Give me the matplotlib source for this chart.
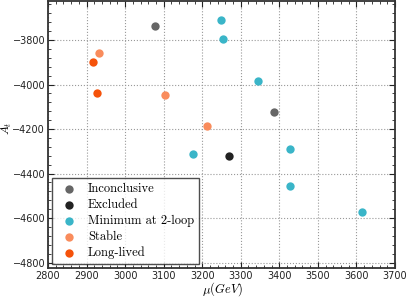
import numpy as np
from matplotlib import pyplot as plt

plt.rcParams['mathtext.fontset'] = 'cm'

# points, per category
inconclusive_mu = [3078, 3386]
inconclusive_at = [-3736, -4125]
excluded_mu = [3269]
excluded_at = [-4321]
minimum_mu = [3250, 3253, 3345, 3175, 3427, 3427, 3615]
minimum_at = [-3710, -3794, -3985, -4314, -4290, -4457, -4572]
stable_mu = [2931, 3104, 3213]
stable_at = [-3860, -4048, -4187]
longlived_mu = [2917, 2927]
longlived_at = [-3900, -4038]

xticks = [2800, 2900, 3000, 3100, 3200, 3300, 3400, 3500, 3600, 3700]
yticks = [-4800, -4600, -4400, -4200, -4000, -3800]

fig = plt.figure(figsize=(4.07, 2.97), dpi=100)
ax = fig.add_axes([48/407, 1 - 268/297, 347/407, 267/297])

s = 36
ax.scatter(inconclusive_mu, inconclusive_at, s=s, color='#666666', label='Inconclusive', zorder=3, lw=0)
ax.scatter(excluded_mu, excluded_at, s=s, color='#222222', label='Excluded', zorder=3, lw=0)
ax.scatter(minimum_mu, minimum_at, s=s, color='#3ab5c8', label='Minimum at 2-loop', zorder=3, lw=0)
ax.scatter(stable_mu, stable_at, s=s, color='#f98c5c', label='Stable', zorder=3, lw=0)
ax.scatter(longlived_mu, longlived_at, s=s, color='#f5520a', label='Long-lived', zorder=3, lw=0)

ax.set_xlim(2800, 3700)
ax.set_ylim(-4824, -3625)
ax.set_xticks(xticks)
ax.set_yticks(yticks)
ax.set_xticks(np.arange(2800, 3701, 20), minor=True)
ax.set_yticks(np.arange(-4800, -3620, 40), minor=True)
ax.tick_params(which='both', direction='in', top=True, right=True, labelsize=7, colors='#222222')
ax.tick_params(which='major', length=4, width=0.8, pad=2)
ax.tick_params(which='minor', length=2, width=0.6)
for sp in ax.spines.values():
    sp.set_linewidth(1.3)
    sp.set_color('#333333')
ax.grid(True, which='major', linestyle=':', color='#999999', linewidth=0.8)

ax.set_xlabel(r'$\mu(GeV)$', fontsize=9)
ax.set_ylabel(r'$A_t$', fontsize=8.5)
ax.xaxis.set_label_coords((222 - 48) / 347, -(280 - 268) / 267)
ax.yaxis.set_label_coords(-(48 - 14) / 347, (268 - 128) / 267)

leg = ax.legend(loc='lower left', prop={'family': 'cmr10', 'size': 9}, frameon=True,
                fancybox=False, handletextpad=0.5, labelspacing=0.3,
                borderaxespad=0.3, scatterpoints=1)
leg.get_frame().set_edgecolor('#222222')
leg.get_frame().set_linewidth(1.0)

fig.savefig('out.png', dpi=100)
